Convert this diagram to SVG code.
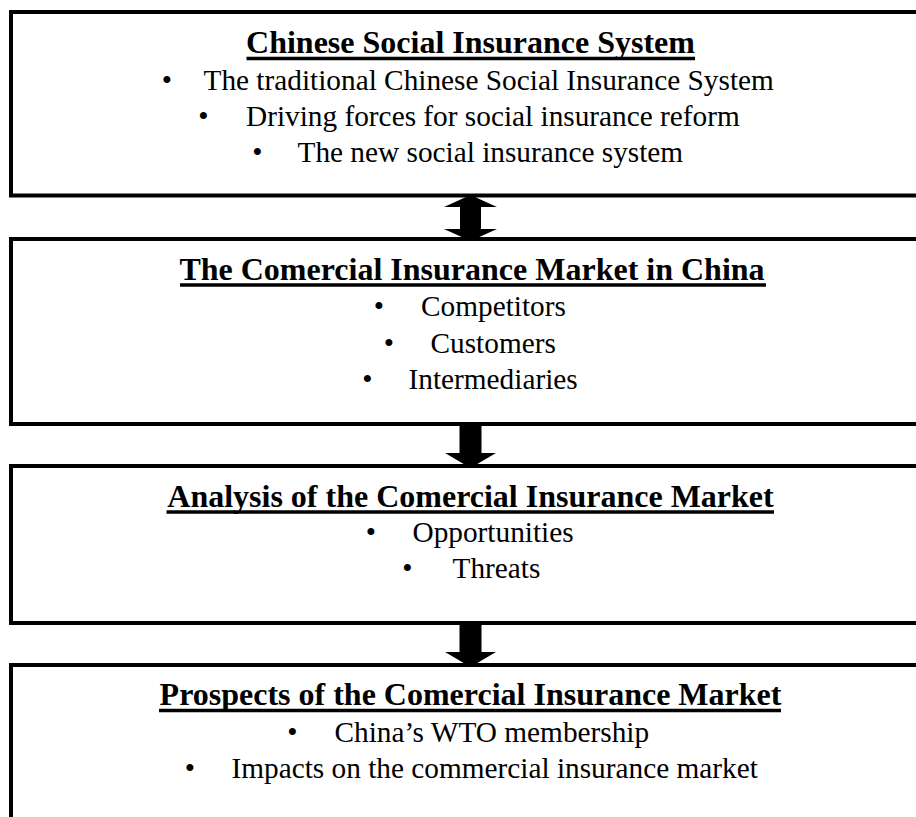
<svg xmlns="http://www.w3.org/2000/svg" width="916" height="817" viewBox="0 0 916 817">
<style>
.box{fill:#fff;stroke:#000;stroke-width:4}
.title{font-family:"Liberation Serif","Times New Roman",serif;font-weight:bold;font-size:32px;fill:#000;text-anchor:middle}
.ul{stroke:#000;stroke-width:3.5}
.item{font-family:"Liberation Serif","Times New Roman",serif;font-size:29.3px;fill:#000}
.bul{font-family:"Liberation Serif","Times New Roman",serif;font-size:29.3px;fill:#000;text-anchor:middle}
.arrow{fill:#000;stroke:none}
</style>
<rect width="916" height="817" fill="#fff"/>
<g id="node-social">
<rect class="box" x="11" y="12" width="930" height="183.5"/>
<text class="title" x="470.5" y="53">Chinese Social Insurance System</text>
<line class="ul" x1="246.5" y1="58.5" x2="695" y2="58.5"/>
<text class="bul" x="167" y="90">•</text>
<text class="item" x="203.5" y="90">The traditional Chinese Social Insurance System</text>
<text class="bul" x="203.5" y="125.5">•</text>
<text class="item" x="246" y="125.5">Driving forces for social insurance reform</text>
<text class="bul" x="257.5" y="161.5">•</text>
<text class="item" x="297.5" y="161.5">The new social insurance system</text>
</g>
<g id="node-market">
<rect class="box" x="11" y="239" width="930" height="185"/>
<text class="title" x="472" y="279.5">The Comercial Insurance Market in China</text>
<line class="ul" x1="180" y1="285" x2="766" y2="285"/>
<text class="bul" x="379" y="316">•</text>
<text class="item" x="421" y="316">Competitors</text>
<text class="bul" x="389" y="353">•</text>
<text class="item" x="430.5" y="353">Customers</text>
<text class="bul" x="367.5" y="389">•</text>
<text class="item" x="408.5" y="389">Intermediaries</text>
</g>
<g id="node-analysis">
<rect class="box" x="11" y="466" width="930" height="157"/>
<text class="title" x="470.5" y="506.5">Analysis of the Comercial Insurance Market</text>
<line class="ul" x1="166.5" y1="512" x2="774" y2="512"/>
<text class="bul" x="371" y="542">•</text>
<text class="item" x="412.5" y="542">Opportunities</text>
<text class="bul" x="407.5" y="578">•</text>
<text class="item" x="452.5" y="578">Threats</text>
</g>
<g id="node-prospects">
<rect class="box" x="11" y="665" width="930" height="200"/>
<text class="title" x="470.5" y="705">Prospects of the Comercial Insurance Market</text>
<line class="ul" x1="159" y1="710.5" x2="781" y2="710.5"/>
<text class="bul" x="292.5" y="742">•</text>
<text class="item" x="334.5" y="742">China’s WTO membership</text>
<text class="bul" x="190" y="778">•</text>
<text class="item" x="231.5" y="778">Impacts on the commercial insurance market</text>
</g>
<g id="connectors">
<polygon class="arrow" points="470.5,195 497,207 481,207 481,229 497,229 470.5,241 444,229 460,229 460,207 444,207"/>
<polygon class="arrow" points="459.5,422 481.5,422 481.5,453 496,453 470.5,468 445,453 459.5,453"/>
<polygon class="arrow" points="459.5,621 481.5,621 481.5,652 496,652 470.5,667 445,652 459.5,652"/>
</g>
</svg>
